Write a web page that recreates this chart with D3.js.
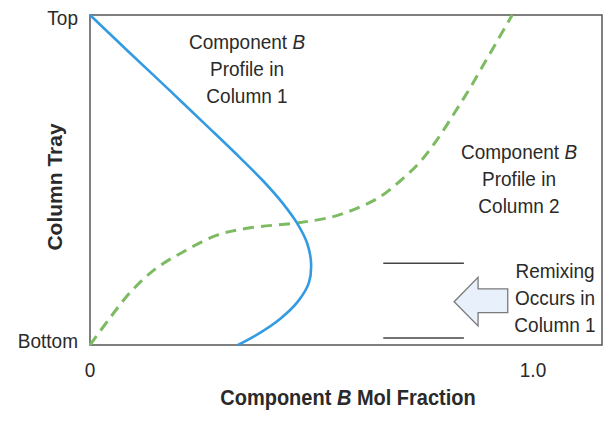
<!DOCTYPE html>
<html>
<head>
<meta charset="utf-8">
<script src="https://cdn.jsdelivr.net/npm/d3@7"></script>
<style>
  html, body { margin: 0; padding: 0; background: #ffffff; }
  svg { display: block; }
  text { font-family: "Liberation Sans", Arial, sans-serif; fill: #2a2a2a; }
</style>
</head>
<body>
<svg id="chart" width="607" height="421"></svg>
<script>
// ---- Data (mol fraction of B vs. relative tray position, 0 = bottom, 1 = top) ----
const column1X = [0, 0.090, 0.181, 0.271, 0.339, 0.391, 0.433, 0.467, 0.490, 0.499, 0.494, 0.470, 0.429, 0.379, 0.334];
const column1T = [1, 0.885, 0.770, 0.655, 0.567, 0.497, 0.433, 0.370, 0.309, 0.248, 0.188, 0.133, 0.079, 0.033, 0];

const column2X = [0, 0.045, 0.090, 0.147, 0.210, 0.287, 0.361, 0.467, 0.546, 0.598, 0.650, 0.700, 0.745, 0.786, 0.824, 0.858, 0.892, 0.923, 0.953];
const column2T = [0, 0.082, 0.158, 0.230, 0.282, 0.333, 0.355, 0.370, 0.388, 0.412, 0.445, 0.497, 0.555, 0.627, 0.706, 0.779, 0.858, 0.930, 1.0];

const xTickValues = [0, 1];
const xTickLabels = ["0", "1.0"];
const yTickValues = [1, 0];
const yTickLabels = ["Top", "Bottom"];

// ---- Layout ----
const svg = d3.select("#chart");
const plotLeft = 90, plotRight = 602, plotTop = 15, plotBottom = 345;
const x = d3.scaleLinear().domain([0, 1]).range([plotLeft, 533]);
const y = d3.scaleLinear().domain([0, 1]).range([plotBottom, plotTop]);
const TS = 1.1; // vertical stretch of the lettering

function label(px, py, opts) {
  return svg.append("text")
    .attr("transform", `translate(${px},${py}) scale(1,${TS})`)
    .attr("text-anchor", opts.anchor || "middle")
    .attr("font-size", opts.size || 19)
    .attr("font-weight", opts.weight || null);
}

// plot frame
svg.append("rect")
  .attr("x", plotLeft).attr("y", plotTop)
  .attr("width", plotRight - plotLeft).attr("height", plotBottom - plotTop)
  .attr("fill", "none").attr("stroke", "#555").attr("stroke-width", 1.5);

// curves
const line = d3.line().x(d => x(d[0])).y(d => y(d[1])).curve(d3.curveCatmullRom.alpha(0.5));

svg.append("path")
  .datum(column2X.map((v, i) => [v, column2T[i]]))
  .attr("d", line)
  .attr("fill", "none")
  .attr("stroke", "#7dbb62")
  .attr("stroke-width", 3)
  .attr("stroke-dasharray", "11,7");

svg.append("path")
  .datum(column1X.map((v, i) => [v, column1T[i]]))
  .attr("d", line)
  .attr("fill", "none")
  .attr("stroke", "#339be2")
  .attr("stroke-width", 2.6);

// tick labels
xTickValues.forEach((v, i) => {
  label(x(v), 377, {}).text(xTickLabels[i]);
});
yTickValues.forEach((v, i) => {
  label(78, y(v) + (v === 1 ? 10 : 3), {anchor: "end"}).text(yTickLabels[i]);
});

// axis titles
const xt = label(348, 405, {size: 20, weight: "bold"});
xt.append("tspan").text("Component ");
xt.append("tspan").attr("font-style", "italic").text("B");
xt.append("tspan").text(" Mol Fraction");

svg.append("text")
  .attr("transform", "translate(62,187) rotate(-90)")
  .attr("text-anchor", "middle")
  .attr("font-size", 21).attr("font-weight", "bold")
  .text("Column Tray");

// annotations
function multiline(cx, baselines, lines) {
  lines.forEach((ln, i) => {
    const t = label(cx, baselines[i], {});
    ln.forEach(part => {
      t.append("tspan").attr("font-style", part.i ? "italic" : null).text(part.t);
    });
  });
}
multiline(247, [49, 76, 103], [[{t: "Component "}, {t: "B", i: true}], [{t: "Profile in"}], [{t: "Column 1"}]]);
multiline(519, [159, 186, 213], [[{t: "Component "}, {t: "B", i: true}], [{t: "Profile in"}], [{t: "Column 2"}]]);
multiline(555, [278, 305, 332], [[{t: "Remixing"}], [{t: "Occurs in"}], [{t: "Column 1"}]]);

// remixing band markers (in data units)
const bandX0 = 0.662, bandX1 = 0.844;
[0.248, 0.021].forEach(tv => {
  svg.append("line")
    .attr("x1", x(bandX0)).attr("x2", x(bandX1))
    .attr("y1", y(tv)).attr("y2", y(tv))
    .attr("stroke", "#444").attr("stroke-width", 1.5);
});

// arrow
const arrowPts = [
  [0.822, 0.131], [0.876, 0.205], [0.876, 0.170], [0.943, 0.170],
  [0.943, 0.098], [0.876, 0.098], [0.876, 0.058]
];
svg.append("polygon")
  .attr("points", arrowPts.map(p => [x(p[0]), y(p[1])].join(",")).join(" "))
  .attr("fill", "#e8f1fb")
  .attr("stroke", "#7a7a7a")
  .attr("stroke-width", 1.3);
</script>
</body>
</html>
